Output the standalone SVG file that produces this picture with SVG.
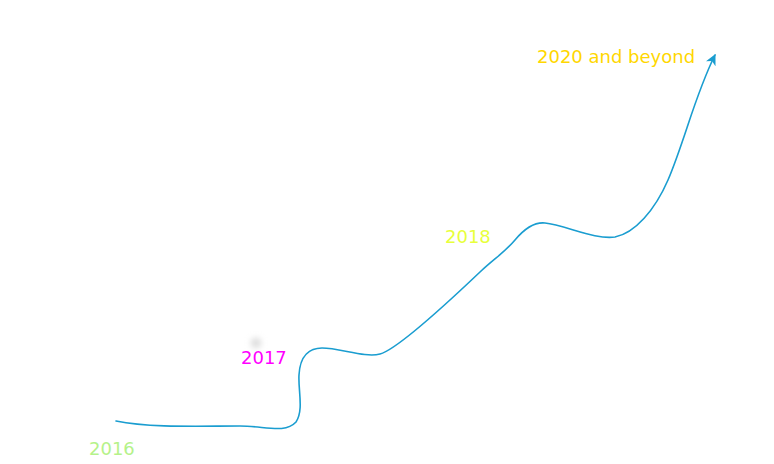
<svg xmlns="http://www.w3.org/2000/svg" width="774" height="464" viewBox="0 0 774 464">
  <style>
    .lbl { font-family: "DejaVu Sans", "Noto Sans", sans-serif; font-size: 18px; }
    .curve { fill: none; stroke: #1a9dd0; stroke-width: 1.6; stroke-linecap: round; }
  </style>
  <defs>
    <marker id="arrow" viewBox="0 0 10 10" refX="9" refY="5" markerWidth="11" markerHeight="11" markerUnits="userSpaceOnUse" orient="auto">
      <path d="M0,0 L10,5 L0,10 L3,5 Z" fill="#1a9dd0"/>
    </marker>
    <filter id="blur" x="-150%" y="-150%" width="400%" height="400%">
      <feGaussianBlur stdDeviation="3"/>
    </filter>
  </defs>
  <rect width="774" height="464" fill="#ffffff"/>
  <g id="connectors">
    <path class="curve" marker-end="url(#arrow)" d="M116,421 C150,428 200,426 240,426 C265,426 285,434 296,422 C304,410 298,390 299,375 C300,355 310,348 322,348 C340,348 365,358 380,354 C395,350 440,310 480,272 C495,258 505,252 515,240 C525,228 535,222 545,223 C565,225 595,240 615,237 C635,233 655,210 668,180 C685,140 695,95 715,55"/>
  </g>
  <g id="node-2016">
    <text class="lbl" x="89" y="455" fill="#b5f28a">2016</text>
  </g>
  <g id="node-2017">
    <circle cx="256" cy="343" r="5" fill="#d8d8d8" filter="url(#blur)"/>
    <text class="lbl" x="241" y="364" fill="#ff00ff">2017</text>
  </g>
  <g id="node-2018">
    <text class="lbl" x="445" y="243" fill="#e8ff3c">2018</text>
  </g>
  <g id="node-2020">
    <text class="lbl" x="537" y="63" fill="#ffd700">2020 and beyond</text>
  </g>
</svg>
